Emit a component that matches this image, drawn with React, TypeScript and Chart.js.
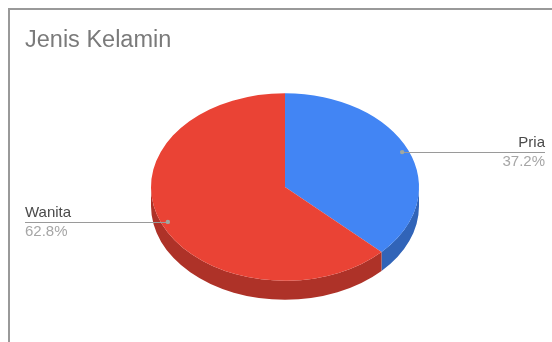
import React, { useEffect, useRef } from "react";
import { Chart, registerables } from "chart.js";

Chart.register(...registerables);

const title = "Jenis Kelamin";
const categories = ["Pria", "Wanita"];
const values = [37.2, 62.8];
const topColors = ["#4285F4", "#EA4335"];
const sideColors = ["#3164B8", "#AE3228"];

const TILT = 0.7;
const DEPTH = 19;
const FONT = "'Liberation Sans', Arial, sans-serif";

export default function App() {
  const ref = useRef<HTMLCanvasElement>(null);

  useEffect(() => {
    const canvas = ref.current!;

    const pie3d = {
      id: "pie3d",
      beforeDatasetsDraw(chart: any) {
        const ctx = chart.ctx;
        const meta = chart.getDatasetMeta(0);
        let cx = 0;
        let cy = 0;
        meta.data.forEach((arc: any, i: number) => {
          const { x, y, startAngle, endAngle, outerRadius } = arc.getProps(
            ["x", "y", "startAngle", "endAngle", "outerRadius"],
            true
          );
          cx = x;
          cy = y;
          const ranges = [
            [0, Math.PI],
            [2 * Math.PI, 3 * Math.PI],
            [-2 * Math.PI, -Math.PI],
          ];
          for (const [lo, hi] of ranges) {
            const a1 = Math.max(startAngle, lo);
            const a2 = Math.min(endAngle, hi);
            if (a2 <= a1) continue;
            ctx.beginPath();
            ctx.ellipse(x, y, outerRadius, outerRadius * TILT, 0, a1, a2, false);
            ctx.ellipse(x, y + DEPTH, outerRadius, outerRadius * TILT, 0, a2, a1, true);
            ctx.closePath();
            ctx.fillStyle = sideColors[i];
            ctx.fill();
          }
        });
        ctx.save();
        ctx.translate(cx, cy);
        ctx.scale(1, TILT);
        ctx.translate(-cx, -cy);
      },
      afterDatasetsDraw(chart: any) {
        const ctx = chart.ctx;
        ctx.restore();
        const meta = chart.getDatasetMeta(0);
        const total = values.reduce((a, b) => a + b, 0);
        meta.data.forEach((arc: any, i: number) => {
          const { x, y, startAngle, endAngle, outerRadius } = arc.getProps(
            ["x", "y", "startAngle", "endAngle", "outerRadius"],
            true
          );
          const mid = (startAngle + endAngle) / 2;
          const px = x + Math.cos(mid) * outerRadius * 0.95;
          const py = y + Math.sin(mid) * outerRadius * 0.95 * TILT;
          const right = Math.cos(mid) > 0;
          const endX = right ? 545 : 25;
          ctx.save();
          ctx.strokeStyle = "#9a9a9a";
          ctx.lineWidth = 1;
          ctx.beginPath();
          ctx.moveTo(px, Math.round(py) + 0.5);
          ctx.lineTo(endX, Math.round(py) + 0.5);
          ctx.stroke();
          ctx.fillStyle = "#a0a8a0";
          ctx.beginPath();
          ctx.arc(px, py, 2.2, 0, Math.PI * 2);
          ctx.fill();
          ctx.textAlign = right ? "right" : "left";
          ctx.textBaseline = "alphabetic";
          ctx.font = `15px ${FONT}`;
          ctx.fillStyle = "#4a4a4a";
          ctx.fillText(categories[i], endX, Math.round(py) - 5);
          ctx.fillStyle = "#a6a6a6";
          const pct = ((values[i] / total) * 100).toFixed(1) + "%";
          ctx.fillText(pct, endX, Math.round(py) + 14);
          ctx.restore();
        });
      },
      afterDraw(chart: any) {
        const ctx = chart.ctx;
        ctx.save();
        ctx.font = `23.5px ${FONT}`;
        ctx.fillStyle = "#7a7a7a";
        ctx.textAlign = "left";
        ctx.textBaseline = "alphabetic";
        ctx.fillText(title, 25, 47);
        ctx.restore();
      },
    };

    const chart = new Chart(canvas, {
      type: "pie",
      data: {
        labels: categories,
        datasets: [
          {
            data: values,
            backgroundColor: topColors,
            borderWidth: 0,
          },
        ],
      },
      options: {
        responsive: false,
        animation: false,
        events: [],
        layout: { padding: { left: 151, right: 133, top: 53, bottom: 21 } },
        plugins: {
          legend: { display: false },
          tooltip: { enabled: false },
          title: { display: false },
        },
      },
      plugins: [pie3d],
    });
    return () => chart.destroy();
  }, []);

  return (
    <div
      style={{
        position: "fixed",
        left: 0,
        top: 0,
        width: 552,
        height: 342,
        overflow: "hidden",
        background: "#ffffff",
      }}
    >
      <div
        style={{
          position: "absolute",
          left: 8,
          top: 8,
          width: 600,
          height: 400,
          borderLeft: "2px solid #999999",
          borderTop: "2px solid #999999",
        }}
      />
      <canvas
        ref={ref}
        width={552}
        height={342}
        style={{ position: "absolute", left: 0, top: 0 }}
      />
    </div>
  );
}
